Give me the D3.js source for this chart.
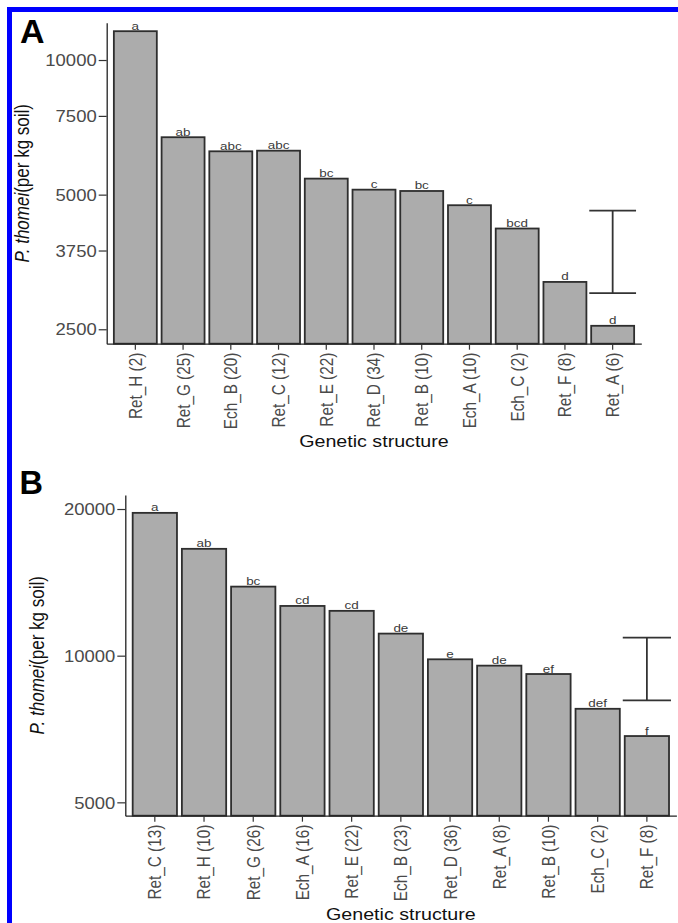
<!DOCTYPE html>
<html>
<head>
<meta charset="utf-8">
<script src="https://cdn.jsdelivr.net/npm/d3@7"></script>
<style>
  html, body { margin: 0; padding: 0; background: #fff; }
  svg { display: block; }
  text { font-family: "Liberation Sans", Arial, Helvetica, sans-serif; }
</style>
</head>
<body>
<svg id="chart" width="678" height="923"></svg>
<script>
// ---------- data ----------
const catsA = ["Ret_H (2)", "Ret_G (25)", "Ech_B (20)", "Ret_C (12)", "Ret_E (22)", "Ret_D (34)", "Ret_B (10)", "Ech_A (10)", "Ech_C (2)", "Ret_F (8)", "Ret_A (6)"];
const valsA = [11600, 6720, 6250, 6270, 5430, 5130, 5095, 4735, 4200, 3190, 2545];
const lettersA = ["a", "ab", "abc", "abc", "bc", "c", "bc", "c", "bcd", "d", "d"];
const ticksA = [2500, 3750, 5000, 7500, 10000];
const domainA = [2321, 12118];
const errA = [3010, 4605];
const errCatA = "Ret_A (6)";

const catsB = ["Ret_C (13)", "Ret_H (10)", "Ret_G (26)", "Ech_A (16)", "Ret_E (22)", "Ech_B (23)", "Ret_D (36)", "Ret_A (8)", "Ret_B (10)", "Ech_C (2)", "Ret_F (8)"];
const valsB = [19640, 16570, 13860, 12650, 12360, 11100, 9830, 9540, 9170, 7780, 6840];
const lettersB = ["a", "ab", "bc", "cd", "cd", "de", "e", "de", "ef", "def", "f"];
const ticksB = [5000, 10000, 20000];
const domainB = [4694, 21370];
const errB = [8094, 10890];
const errCatB = "Ret_F (8)";

const panelLabels = ["A", "B"];
const xTitle = "Genetic structure";

// ---------- layout ----------
const SX = 1.17; // horizontal stretch of the original image
const svg = d3.select("#chart");
svg.append("rect").attr("x", 0).attr("y", 0).attr("width", 678).attr("height", 923).attr("fill", "#fff");
// blue frame (top + left)
svg.append("rect").attr("x", 7).attr("y", 7).attr("width", 671).attr("height", 5).attr("fill", "#0000ff");
svg.append("rect").attr("x", 7).attr("y", 7).attr("width", 5).attr("height", 916).attr("fill", "#0000ff");

function panel(cfg) {
  const {cats, vals, letters, ticks, domain, err, errCat, x0, x1, yTop, yBot,
         label, labelX, labelY, labelSize, yTitleX, xTitleY} = cfg;
  const g = svg.append("g");

  const x = d3.scaleBand().domain(cats).range([x0, x1]).paddingInner(0.1).paddingOuter(0.15);
  const y = d3.scaleLog().domain(domain).range([yBot, yTop]);

  // bars
  g.selectAll("rect.bar").data(cats).join("rect")
    .attr("class", "bar")
    .attr("x", d => x(d))
    .attr("width", x.bandwidth())
    .attr("y", (d, i) => y(vals[i]))
    .attr("height", (d, i) => yBot - y(vals[i]))
    .attr("fill", "#acacac")
    .attr("stroke", "#2e2e2e")
    .attr("stroke-width", 1.8);

  // letters above bars
  g.selectAll("text.let").data(cats).join("text")
    .attr("class", "let")
    .attr("transform", (d, i) => `translate(${x(d) + x.bandwidth() / 2},${y(vals[i]) - 1.5}) scale(${SX},1)`)
    .attr("text-anchor", "middle")
    .attr("font-size", 11.5)
    .attr("fill", "#3a3a3a")
    .text((d, i) => letters[i]);

  // error bar
  const ex = x(errCat) + x.bandwidth() / 2;
  const capW = x.step() * 0.98;
  const eg = g.append("g").attr("stroke", "#333").attr("stroke-width", 1.8).attr("fill", "none");
  eg.append("line").attr("x1", ex).attr("x2", ex).attr("y1", y(err[0])).attr("y2", y(err[1]));
  eg.append("line").attr("x1", ex - capW / 2).attr("x2", ex + capW / 2).attr("y1", y(err[0])).attr("y2", y(err[0]));
  eg.append("line").attr("x1", ex - capW / 2).attr("x2", ex + capW / 2).attr("y1", y(err[1])).attr("y2", y(err[1]));

  // y axis
  const ya = g.append("g").attr("transform", `translate(${x0},0)`)
    .call(d3.axisLeft(y).tickValues(ticks).tickFormat(d3.format("d")).tickSizeInner(8).tickSizeOuter(0));
  ya.select(".domain").attr("stroke", "#222").attr("stroke-width", 1.3);
  ya.selectAll(".tick line").attr("stroke", "#333").attr("stroke-width", 1.2);
  ya.selectAll(".tick text")
    .attr("x", -10 / SX)
    .attr("dy", "0.36em")
    .attr("transform", `scale(${SX},1)`)
    .attr("font-size", 15.8)
    .attr("font-family", "Liberation Sans, Arial, sans-serif")
    .attr("fill", "#4a4a4a");

  // x axis
  const xa = g.append("g").attr("transform", `translate(0,${yBot})`)
    .call(d3.axisBottom(x).tickSizeInner(6).tickSizeOuter(0));
  xa.select(".domain").attr("stroke", "#222").attr("stroke-width", 1.3);
  xa.selectAll(".tick line").attr("stroke", "#333").attr("stroke-width", 1.2);
  xa.selectAll(".tick text")
    .attr("transform", `scale(${SX},1) rotate(-90)`)
    .attr("x", -9)
    .attr("y", 0)
    .attr("dy", "0.36em")
    .attr("text-anchor", "end")
    .attr("font-size", 15.3)
    .attr("font-family", "Liberation Sans, Arial, sans-serif")
    .attr("fill", "#4a4a4a");
  // scale() also moves the text horizontally; compensate by placing the tick group
  xa.selectAll(".tick").attr("transform", d => `translate(${x(d) + x.bandwidth() / 2},0)`);

  // x title
  g.append("text")
    .attr("transform", `translate(${(x0 + x1) / 2},${xTitleY}) scale(${SX},1)`)
    .attr("text-anchor", "middle")
    .attr("font-size", 16.8)
    .attr("fill", "#111")
    .text(xTitle);

  // y title
  const yt = g.append("text")
    .attr("transform", `translate(${yTitleX},${(yTop + yBot) / 2}) scale(${SX},1) rotate(-90)`)
    .attr("text-anchor", "middle")
    .attr("font-size", 17)
    .attr("fill", "#111");
  yt.append("tspan").attr("font-style", "italic").text("P. thomei");
  yt.append("tspan").text("(per kg soil)");

  // panel label
  g.append("text")
    .attr("x", labelX).attr("y", labelY)
    .attr("font-size", labelSize)
    .attr("font-weight", "bold")
    .attr("fill", "#000")
    .text(label);
}

panel({cats: catsA, vals: valsA, letters: lettersA, ticks: ticksA, domain: domainA,
       err: errA, errCat: errCatA, x0: 106.7, x1: 641.3, yTop: 22.7, yBot: 343.7,
       label: panelLabels[0], labelX: 20, labelY: 43.3, labelSize: 34, yTitleX: 29, xTitleY: 447});

panel({cats: catsB, vals: valsB, letters: lettersB, ticks: ticksB, domain: domainB,
       err: errB, errCat: errCatB, x0: 125.3, x1: 676.4, yTop: 495, yBot: 815.7,
       label: panelLabels[1], labelX: 19.5, labelY: 494, labelSize: 32.5, yTitleX: 44, xTitleY: 920});
</script>
</body>
</html>
